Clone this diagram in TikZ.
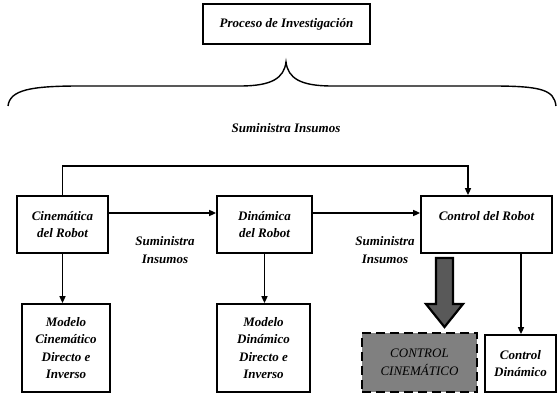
\documentclass[tikz,border=0pt]{standalone}
\usepackage{fontspec}
\setmainfont{Liberation Serif}
\usetikzlibrary{arrows.meta,positioning,calc}
\definecolor{BoxGrey}{HTML}{808080}
\definecolor{ArrowGrey}{HTML}{595959}
\tikzset{
  blk/.style={draw, line width=1.7pt, fill=white, align=center, inner sep=1pt,
    font=\bfseries\itshape\fontsize{13}{17.5}\selectfont},
  lbl/.style={align=center, font=\bfseries\itshape\fontsize{13}{17.5}\selectfont},
  flow/.style={line width=1.5pt, -{Triangle[length=7pt,width=6pt]}}
}
\begin{document}
\begin{tikzpicture}[x=1pt, y=-1pt]
    \useasboundingbox (0,0) rectangle (558,396);
    % top of the process
    \node[blk, minimum width=167pt, minimum height=40pt] (inv) at (286.5,24) {Proceso de Investigaci\'on};
    \draw[line width=1.4pt] (8,106) .. controls (10,90) and (30,86) .. (80,86) -- (240,86)
      .. controls (272,86) and (284,78) .. (286,62)
      .. controls (288,78) and (300,86) .. (332,86) -- (492,86)
      .. controls (542,86) and (554,90) .. (556,106);
    \node[lbl] (sumtop) at (286,128) {Suministra Insumos};
    % main row
    \node[blk, minimum width=91pt, minimum height=57pt] (cine) at (62.5,224.5) {Cinem\'atica\\del Robot};
    \node[blk, minimum width=95pt, minimum height=57pt] (din) at (264.5,224.5) {Din\'amica\\del Robot};
    \node[blk, minimum width=131pt, minimum height=57pt] (ctrl) at (486.5,224.5) {Control del Robot\\\mbox{}};
    \node[lbl] (sum1) at (165,250) {Suministra\\Insumos};
    \node[lbl] (sum2) at (385,250) {Suministra\\Insumos};
    \coordinate (fb) at (468,166);
    \draw[flow] ([yshift=11.5pt]cine.east) -- ([yshift=11.5pt]din.west);
    \draw[flow] ([yshift=11.5pt]din.east) -- ([yshift=11.5pt]ctrl.west);
    \draw[flow] (cine.north) |- (fb) -- (fb |- ctrl.north);
    % lower row
    \node[blk, minimum width=88pt, minimum height=88pt] (mcine) at (66,348) {Modelo\\Cinem\'atico\\Directo e\\Inverso};
    \node[blk, minimum width=93pt, minimum height=88pt] (mdin) at (263.5,348) {Modelo\\Din\'amico\\Directo e\\Inverso};
    \node[blk, fill=BoxGrey, dash pattern=on 9pt off 5pt, line width=2.6pt,
      font=\itshape\fontsize{13}{17.5}\selectfont, minimum width=115pt, minimum height=59pt] (cc) at (419.5,362.5) {CONTROL\\CINEM\'ATICO};
    \node[blk, minimum width=71pt, minimum height=57pt] (cd) at (520.5,363.5) {Control\\Din\'amico};
    \draw[flow] (cine.south) -- (cine.south |- mcine.north);
    \draw[flow] (din.south) -- (din.south |- mdin.north);
    \draw[flow] ([xshift=34.5pt]ctrl.south) -- ([xshift=34.5pt]ctrl.south |- cd.north);
    \draw[line width=2.2pt, fill=ArrowGrey, line join=miter] (436,258) -- (453,258) -- (453,304) -- (463,304)
      -- (444.5,327) -- (426,304) -- (436,304) -- cycle;
  \end{tikzpicture}
\end{document}
